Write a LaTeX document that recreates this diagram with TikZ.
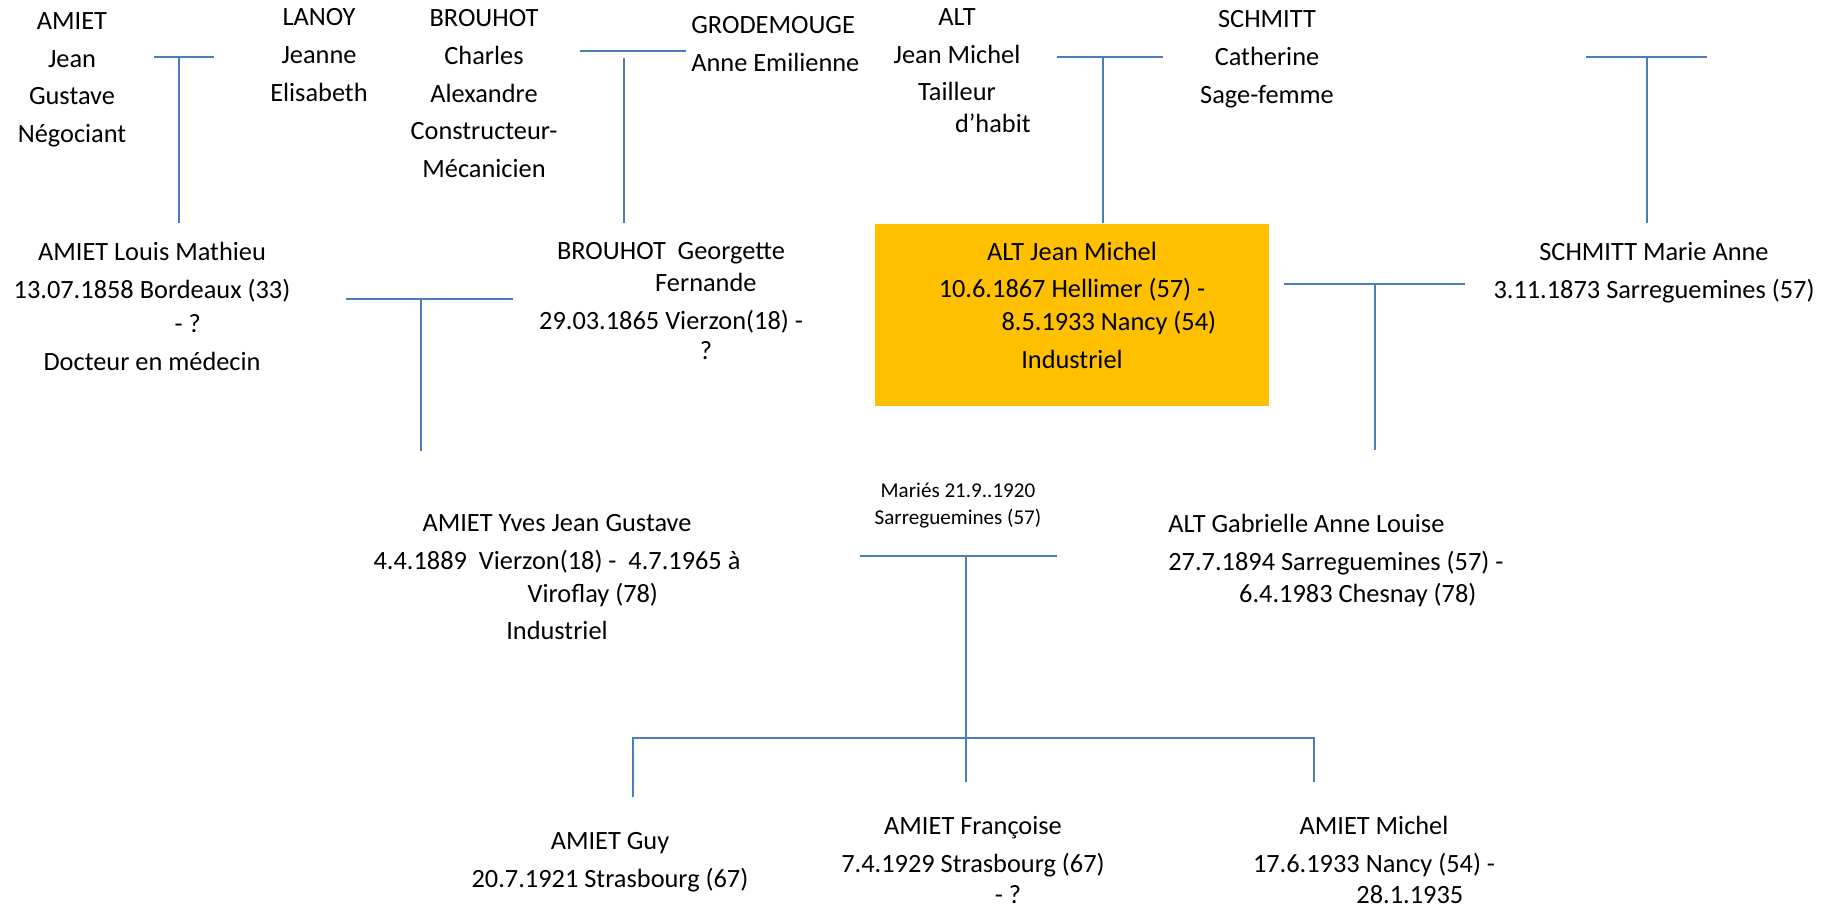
\documentclass[tikz,border=0pt]{standalone}
\usepackage{fontspec}
\setmainfont{Carlito}
\usepackage{tikz}
\definecolor{Line}{HTML}{4A7EBB}
\definecolor{Gold}{HTML}{FFC000}
% shifted line inside a centred node, #1 = twice the shift
\newcommand\shiftln[2]{\makebox[0pt]{\hspace*{#1}#2}}

\begin{document}
\begin{tikzpicture}[x=0.02cm,y=-0.02cm,
    pers/.style={align=center,inner sep=0pt,anchor=north,
      font=\fontsize{15}{21.5}\selectfont,execute at begin node=\strut},
    egobox/.style={pers,anchor=center,fill=Gold,minimum width=7.88cm,
      minimum height=3.64cm},
    link/.style={draw=Line,line width=1.1pt}]
  \useasboundingbox (0,0) rectangle (1829,907);

  % grand-parents
  \node[pers] (jgustave) at (72,12) {AMIET\\Jean\\Gustave\\Négociant};
  \node[pers] (jeanne) at (319,8) {LANOY\\Jeanne\\Elisabeth};
  \node[pers] (charles) at (484,9) {BROUHOT\\Charles\\Alexandre\\Constructeur-\\Mécanicien};
  \node[pers,align=left,anchor=north west] (anne) at (691,16) {GRODEMOUGE\\Anne Emilienne};
  \node[pers] (jmpere) at (957,8) {ALT\\Jean Michel\\Tailleur\\[-3.5pt]\shiftln{40.8pt}{d’habit}};
  \node[pers] (catherine) at (1267,10) {SCHMITT\\Catherine\\Sage-femme};

  % parents
  \node[pers] (louis) at (152,242) {AMIET Louis Mathieu\\13.07.1858 Bordeaux (33)\\[-2.2pt]\shiftln{40.8pt}{- ?}\\Docteur en médecin};
  \node[pers] (georgette) at (671,242) {BROUHOT~ Georgette\\[-3.4pt]\shiftln{39.7pt}{Fernande}\\29.03.1865 Vierzon(18) -\\[-3.9pt]\shiftln{39.7pt}{?}};
  \node[egobox] (jmfils) at (1072,315) {ALT Jean Michel\\10.6.1867 Hellimer (57) -\\[-2.8pt]\shiftln{41.9pt}{8.5.1933 Nancy (54)}\\Industriel\rule[-11.1pt]{0pt}{11.1pt}};
  \node[pers] (marieanne) at (1654,242) {SCHMITT Marie Anne\\3.11.1873 Sarreguemines (57)};

  % couple
  \node[pers] (yves) at (557,514) {AMIET Yves Jean Gustave\\4.4.1889~ Vierzon(18) -~ 4.7.1965 à\\[-2.8pt]\shiftln{40.8pt}{Viroflay (78)}\\Industriel};
  \node[pers,align=left,anchor=north west] (gabrielle) at (1168,514) {ALT Gabrielle Anne Louise\\27.7.1894 Sarreguemines (57) -\\[-3.4pt]\hspace*{40.3pt}6.4.1983 Chesnay (78)};
  \node[pers,font=\fontsize{12}{15.3}\selectfont] (mariage) at (958,483) {Mariés 21.9..1920\\Sarreguemines (57)};

  % children
  \node[pers] (guy) at (610,832) {AMIET Guy\\20.7.1921 Strasbourg (67)};
  \node[pers] (francoise) at (973,816) {AMIET Françoise\\7.4.1929 Strasbourg (67)\\[-3.9pt]\shiftln{39.7pt}{- ?}};
  \node[pers] (michel) at (1374,816) {AMIET Michel\\17.6.1933 Nancy (54) -\\[-3.9pt]\shiftln{40.8pt}{28.1.1935}};

  % unions: bar between spouses, drop to the child
  \foreach \u/\xl/\xr/\yh/\xm/\yt/\yb in {u1/154/214/57/179/57/223,
      u2/580/686/51/624/58/223, u3/1057/1163/57/1103/57/223,
      u4/1586/1707/57/1647/57/223, u5/346/513/299/421/299/451,
      u6/1284/1465/284/1375/284/450, u7/860/1057/556/966/556/782}{
    \coordinate (\u-l) at (\xl,\yh);
    \coordinate (\u-r) at (\xr,\yh);
    \coordinate (\u-t) at (\xm,\yt);
    \coordinate (\u-b) at (\xm,\yb);
    \draw[link] (\u-l) -- (\u-r) (\u-t) -- (\u-b);
  }

  % children bar
  \coordinate (kids-l) at (633,738);
  \coordinate (kids-r) at (1314,738);
  \coordinate (guy-top) at (633,797);
  \coordinate (michel-top) at (1314,782);
  \draw[link] (guy-top) -- (kids-l) -- (kids-r) -- (michel-top);
\end{tikzpicture}
\end{document}
